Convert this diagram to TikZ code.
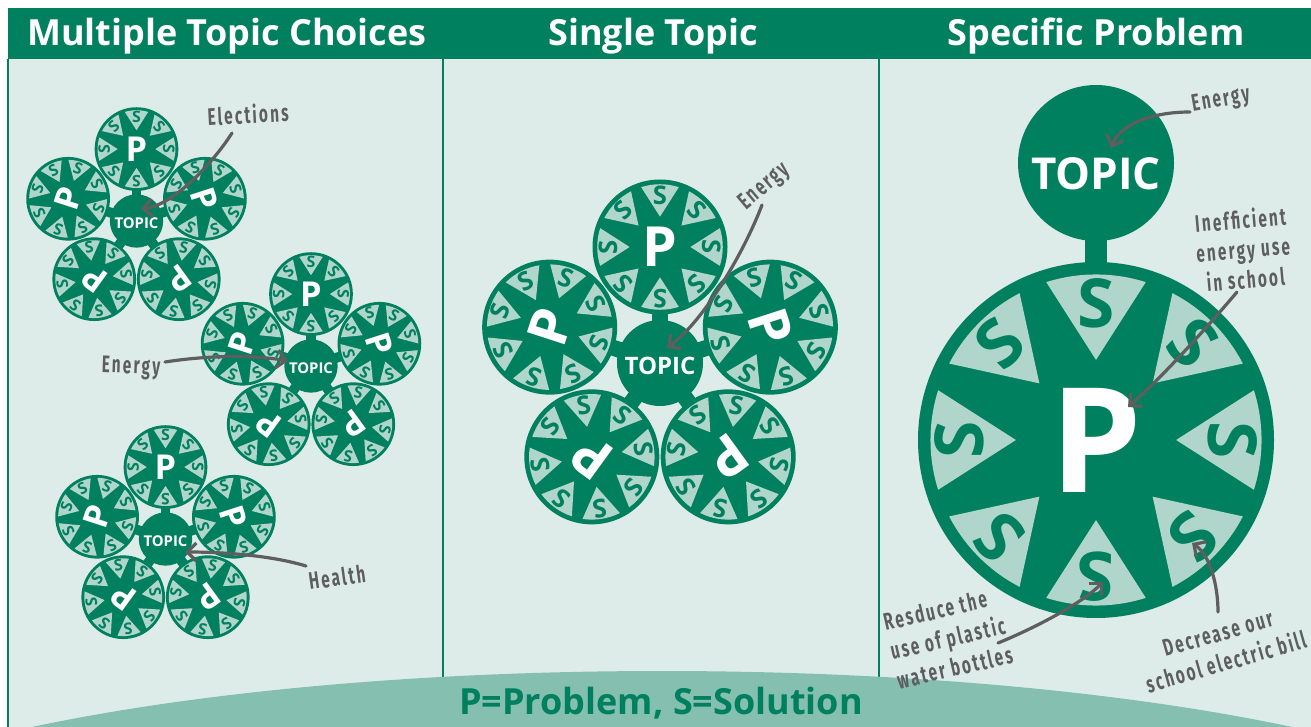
\documentclass[tikz,border=0pt]{standalone}
\usepackage{fontspec}
\setmainfont{Open Sans}
\newfontfamily\handfont[FakeStretch=0.64,LetterSpace=9]{Fira Sans}
\usetikzlibrary{arrows.meta}

\definecolor{dkgreen}{HTML}{00805F}
\definecolor{ltgreen}{HTML}{B0D5CB}
\definecolor{panelbg}{HTML}{DDECE8}
\definecolor{arcgreen}{HTML}{84BFB0}
\definecolor{inkgrey}{HTML}{5E5E5E}

\tikzset{
  pletter/.style={text=white, inner sep=0pt},
  sletter/.style={text=dkgreen, inner sep=0pt},
  topicdisk/.style={circle, fill=dkgreen, inner sep=0pt},
  topictext/.style={text=white, inner sep=0pt},
  header/.style={text=white, anchor=base, inner sep=0pt,
    font=\fontsize{36pt}{36pt}\selectfont\bfseries},
  hand/.style={text=inkgrey, inner sep=0pt,
    font=\handfont\bfseries\fontsize{24pt}{30pt}\selectfont},
  pointer/.style={draw=inkgrey, line width=3.2pt, line cap=round,
    -{Straight Barb[length=9pt,width=18pt]}},
}

% problem wheel: #1 name, #2 centre, #3 radius, #4 rotation
\newcommand\wheel[4]{%
  \begin{scope}[shift={(#2)}]
    \pgfmathsetmacro\wR{#3}
    \pgfmathsetmacro\wS{0.38*#3}
    \pgfmathsetmacro\wP{0.82*#3}
    \fill[dkgreen] (0,0) circle[radius=\wR];
    \foreach \k in {0,...,7}{
      \pgfmathsetmacro\ang{90+45*\k+(#4)}
      \fill[ltgreen] ({\ang}:{0.45*\wR}) -- ({\ang-17.5}:{0.93*\wR})
        arc[start angle=\ang-17.5, end angle=\ang+17.5, radius=0.93*\wR] -- cycle;
      \node[sletter, rotate=\ang-90, font=\fontsize{\wS pt}{\wS pt}\selectfont\bfseries]
        at ({\ang}:{0.77*\wR}) {S};
    }
    \node[pletter, rotate=#4, font=\fontsize{\wP pt}{\wP pt}\selectfont\bfseries]
      (#1) at (0,0) {P};
  \end{scope}%
}

% topic with five problem wheels: #1 prefix, #2 centre, #3 scale
\newcommand\flower[3]{%
  \begin{scope}[shift={(#2)}]
    \pgfmathsetmacro\fD{116*#3}
    \pgfmathsetmacro\fR{67.5*#3}
    \pgfmathsetmacro\fT{86*#3}
    \pgfmathsetmacro\fF{24*#3}
    \pgfmathsetmacro\fW{16*#3}
    \foreach \a in {90,18,-54,-126,162}
      \draw[dkgreen, line width=\fW pt] (0,0) -- (\a:\fD);
    \wheel{#1a}{90:\fD}{\fR}{0}
    \wheel{#1b}{18:\fD}{\fR}{-72}
    \wheel{#1c}{-54:\fD}{\fR}{-144}
    \wheel{#1d}{-126:\fD}{\fR}{144}
    \wheel{#1e}{162:\fD}{\fR}{72}
    \node[topicdisk, minimum size=\fT] (#1t) at (0,0) {};
    \node[topictext, font=\fontsize{\fF pt}{\fF pt}\selectfont\bfseries]
      at (0,{-3*#3}) {TOPIC};
  \end{scope}%
}

\begin{document}
\begin{tikzpicture}[x=1pt,y=1pt]
  \useasboundingbox (0,0) rectangle (1311,-727);
  \fill[white] (0,0) rectangle (1311,-727);
  \fill[panelbg] (8,-59) rectangle (1311,-727);
  \fill[dkgreen] (8,-8) rectangle (1311,-59);
  \draw[dkgreen, line width=2pt] (8,-59) -- (8,-727);
  \draw[dkgreen, line width=2pt] (443,-59) -- (443,-727);
  \draw[dkgreen, line width=2pt] (879,-59) -- (879,-727);

  % column titles
  \node[header] (h1) at (227,-46) {Multiple Topic Choices};
  \node[header] (h2) at (653,-46) {Single Topic};
  \node[header] (h3) at (1096,-46) {Specific Problem};

  % several topics
  \flower{el}{136.5,-221}{0.62}
  \flower{en}{311,-366}{0.62}
  \flower{he}{165.5,-539}{0.62}

  % one topic
  \flower{st}{660,-363}{1}

  % one problem
  \fill[dkgreen] (1085,-230) rectangle (1107,-275);
  \node[topicdisk, minimum size=156] (bigtopic) at (1096,-163) {};
  \node[topictext, font=\fontsize{44pt}{44pt}\selectfont\bfseries] at (1096,-174) {TOPIC};
  \wheel{bigP}{1096,-440}{178}{0}

  % legend band
  \begin{scope}
    \clip (0,0) rectangle (1311,-727);
    \fill[arcgreen] (662,-871) ellipse [x radius=908, y radius=200];
  \end{scope}
  \node[text=dkgreen, anchor=base, inner sep=0pt,
    font=\fontsize{36pt}{36pt}\selectfont\bfseries] (legend) at (661,-714)
    {P=Problem, S=Solution};

  % handwritten notes
  \node[hand, rotate=3] (lelect) at (248,-114) {Elections};
  \node[hand, rotate=-2] (lenerA) at (131,-368) {Energy};
  \node[hand, rotate=8] (lhealth) at (337,-577) {Health};
  \node[hand, rotate=40] (lenerB) at (765,-187) {Energy};
  \node[hand, rotate=10] (lenerC) at (1221,-101) {Energy};
  \node[hand, rotate=5, align=center] (lineff) at (1243,-249)
    {Inefficient\\energy use\\in school};
  \node[hand, rotate=13, align=left] (lplastic) at (948,-638)
    {Resduce the\\use of plastic\\water bottles};
  \node[hand, rotate=16, align=center] (lbill) at (1222,-648)
    {Decrease our\\school electric bill};

  % pointer ends
  \coordinate (t1) at (232,-133);  \coordinate (p1) at (141,-209);
  \coordinate (t2) at (165,-362);  \coordinate (p2) at (288,-361);
  \coordinate (t3) at (306,-566);  \coordinate (p3) at (185,-552);
  \coordinate (t4) at (762,-205);  \coordinate (p4) at (667,-348);
  \coordinate (t5) at (1190,-112); \coordinate (p5) at (1111,-148);
  \coordinate (t6) at (1237,-292); \coordinate (p6) at (1128,-407);
  \coordinate (t7) at (998,-643);  \coordinate (p7) at (1103,-582);
  \coordinate (t8) at (1218,-612); \coordinate (p8) at (1192,-543);

  \draw[pointer] (t1) .. controls (215,-160) and (175,-205) .. (p1);
  \draw[pointer] (t2) .. controls (210,-355) and (255,-355) .. (p2);
  \draw[pointer] (t3) .. controls (270,-555) and (220,-552) .. (p3);
  \draw[pointer] (t4) .. controls (745,-250) and (705,-320) .. (p4);
  \draw[pointer] (t5) .. controls (1150,-112) and (1120,-125) .. (p5);
  \draw[pointer] (t6) .. controls (1215,-318) and (1165,-375) .. (p6);
  \draw[pointer] (t7) .. controls (1030,-630) and (1080,-605) .. (p7);
  \draw[pointer] (t8) .. controls (1218,-585) and (1210,-555) .. (p8);
\end{tikzpicture}
\end{document}
